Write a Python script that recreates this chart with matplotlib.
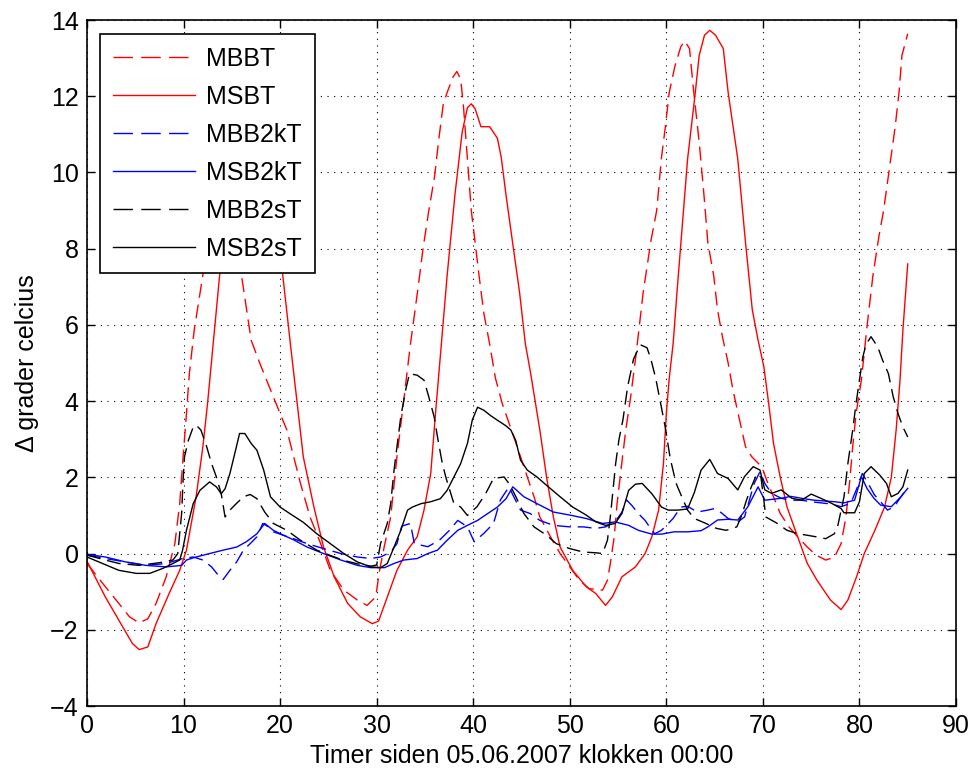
import matplotlib
matplotlib.use("Agg")
import matplotlib.pyplot as plt

plt.rcParams['font.family'] = ['Liberation Sans', 'DejaVu Sans']

labels = ["MBBT", "MSBT", "MBB2kT", "MSB2kT", "MBB2sT", "MSB2sT"]
colors = ["#ff0000", "#ff0000", "#0000ff", "#0000ff", "#000000", "#000000"]
styles = ["--", "-", "--", "-", "--", "-"]

xticks = [0, 10, 20, 30, 40, 50, 60, 70, 80, 90]
yticks = [-4, -2, 0, 2, 4, 6, 8, 10, 12, 14]
xlabel = "Timer siden 05.06.2007 klokken 00:00"
ylabel = "\u0394 grader celcius"

mbbt = [(0, -0.26), (1.9, -0.87), (3.3, -1.31), (4.4, -1.66), (5.4, -1.82), (6.3, -1.71),
        (7.15, -1.31), (8.2, -0.61), (9.1, 0.26), (9.6, 1.31), (9.9, 2.36), (10.3, 3.67),
        (10.6, 4.72), (11.1, 5.86), (12.1, 7.47), (12.9, 8.8), (13.6, 9.7), (14.2, 9.9),
        (14.8, 9.6), (15.4, 8.6), (15.9, 7.47), (17.0, 5.6), (17.9, 4.99), (19.3, 4.11),
        (20.7, 3.24), (22.1, 1.85), (23.1, 0.96), (24.2, 0.26), (25.2, -0.44), (26.6, -0.96),
        (28.0, -1.22), (29.0, -1.36), (29.9, -1.14), (30.3, -0.44), (30.8, 0.2), (31.45, 0.96),
        (32.1, 2.54), (32.7, 3.8), (33.5, 5.5), (34.3, 7.0), (34.8, 8.0), (35.4, 9.0),
        (36.0, 9.9), (36.4, 10.8), (36.9, 11.8), (37.3, 12.1), (37.9, 12.5), (38.3, 12.65),
        (38.7, 12.45), (39.0, 11.7), (39.4, 10.35), (39.8, 9.0), (40.2, 8.15), (40.6, 7.3),
        (41.1, 6.3), (41.7, 5.5), (42.3, 4.6), (43.0, 3.94), (44.2, 3.06), (44.9, 2.54),
        (45.6, 2.01), (46.3, 1.49), (46.9, 0.96), (48.0, 0.44), (49.0, 0.0), (50.0, -0.35),
        (51.0, -0.7), (52.0, -0.92), (53.4, -0.96), (53.9, -0.7), (54.2, -0.26), (54.6, 0.44),
        (54.9, 1.31), (55.3, 2.19), (55.8, 3.24), (56.3, 4.1), (56.9, 5.3), (57.6, 6.85),
        (58.4, 8.2), (59.0, 9.0), (59.5, 10.4), (59.9, 11.2), (60.3, 12.1), (60.9, 12.8),
        (61.5, 13.3), (61.9, 13.45), (62.4, 13.25), (62.8, 12.2), (63.4, 10.8), (63.9, 9.4),
        (64.3, 8.15), (64.9, 7.3), (65.3, 6.4), (65.8, 5.7), (66.4, 5.0), (66.9, 4.29),
        (67.5, 3.6), (68.2, 2.8), (68.85, 2.54), (69.9, 2.27), (70.4, 1.92), (71.1, 1.49),
        (71.8, 1.05), (72.7, 0.7), (73.6, 0.44), (74.6, 0.17), (75.5, -0.04), (76.5, -0.17),
        (77.4, -0.1), (78.1, 0.26), (78.6, 0.96), (79.0, 1.92), (79.3, 2.8), (79.65, 3.67),
        (80.2, 4.55), (80.8, 6.0), (81.4, 7.3), (82.0, 8.3), (82.5, 9.0), (83.1, 10.1),
        (83.7, 11.2), (84.1, 12.1), (84.4, 13.07), (85.0, 13.64)]

msbt = [(0, -0.2), (1.9, -1.14), (3.3, -1.75), (4.7, -2.36), (5.4, -2.52), (6.3, -2.45),
        (7.15, -1.84), (8.5, -1.05), (9.6, -0.44), (10.3, 0.09), (11.3, 1.49), (12.0, 2.8),
        (12.5, 3.98), (13.2, 5.86), (13.8, 7.47), (14.6, 9.2), (15.4, 10.0), (16.4, 10.3),
        (17.4, 10.2), (18.4, 9.8), (19.3, 8.8), (20.2, 7.47), (21.1, 5.42), (22.4, 2.54),
        (23.5, 1.22), (24.5, 0.17), (25.6, -0.61), (27.0, -1.31), (28.3, -1.66), (29.55, -1.84),
        (30.2, -1.77), (31.1, -1.14), (32.1, -0.44), (33.2, 0.09), (34.2, 0.44), (34.9, 1.14),
        (35.6, 2.1), (36.1, 3.7), (36.7, 5.5), (37.3, 7.3), (38.1, 9.4), (38.85, 11.05),
        (39.4, 11.7), (39.8, 11.8), (40.2, 11.67), (40.8, 11.2), (41.7, 11.2), (42.5, 10.9),
        (42.9, 10.4), (43.4, 9.4), (44.0, 8.3), (44.8, 6.85), (45.4, 5.5), (45.9, 4.8),
        (46.9, 3.24), (47.6, 2.0), (48.3, 0.96), (49.0, 0.17), (50.3, -0.44), (51.7, -0.87),
        (52.7, -1.05), (53.7, -1.36), (54.4, -1.14), (55.4, -0.61), (56.8, -0.35), (57.8, 0.0),
        (58.5, 0.44), (59.2, 1.14), (59.7, 2.36), (60.0, 3.67), (60.3, 4.6), (60.7, 5.5),
        (61.1, 6.85), (61.65, 8.6), (62.2, 10.35), (63.0, 12.1), (63.4, 13.07), (63.95, 13.6),
        (64.5, 13.73), (65.1, 13.6), (65.9, 13.25), (66.4, 12.1), (67.4, 10.35), (68.2, 8.16),
        (68.9, 6.4), (69.5, 5.6), (70.1, 4.9), (70.6, 3.94), (71.1, 2.89), (71.8, 2.0),
        (72.5, 1.22), (73.6, 0.44), (74.6, -0.26), (75.6, -0.7), (77.0, -1.22), (78.1, -1.47),
        (78.8, -1.22), (79.7, -0.61), (80.5, 0.0), (81.6, 0.61), (82.6, 1.22), (83.3, 2.0),
        (83.8, 3.24), (84.2, 4.55), (84.5, 5.86), (85.0, 7.6)]

mbb2kt = [(0, -0.04), (1.9, -0.13), (4.0, -0.22), (6.1, -0.31), (8.2, -0.26), (9.9, -0.13),
          (11.0, -0.09), (12.0, -0.17), (12.9, -0.35), (13.6, -0.57), (14.1, -0.68), (14.8, -0.44),
          (15.5, -0.22), (16.2, 0.09), (16.9, 0.26), (17.6, 0.44), (18.2, 0.79), (18.8, 0.7),
          (19.3, 0.57), (20.35, 0.48), (21.4, 0.39), (22.8, 0.26), (24.5, 0.13), (26.3, 0.0),
          (28.0, -0.09), (29.4, -0.13), (30.4, -0.09), (31.45, 0.04), (32.1, 0.26), (32.6, 0.72),
          (33.5, 0.79), (33.9, 0.26), (35.3, 0.18), (36.5, 0.35), (37.5, 0.6), (38.4, 0.87),
          (39.4, 0.7), (40.1, 0.31), (41.1, 0.53), (42.1, 0.79), (42.8, 1.4), (43.7, 1.75),
          (44.2, 1.49), (44.9, 1.14), (45.9, 1.05), (46.9, 0.87), (48.3, 0.74), (50.0, 0.7),
          (51.4, 0.7), (52.7, 0.66), (53.7, 0.7), (54.7, 0.83), (55.4, 1.09), (55.9, 1.4),
          (56.4, 1.27), (57.1, 1.05), (57.8, 0.87), (58.5, 0.61), (58.8, 0.52), (59.5, 0.61),
          (60.2, 0.79), (60.7, 0.92), (61.5, 1.22), (62.2, 1.24), (63.2, 1.09), (64.3, 1.14),
          (65.0, 1.18), (65.7, 1.07), (66.4, 0.92), (67.4, 0.83), (68.1, 0.96), (68.6, 1.4),
          (69.1, 1.84), (69.7, 2.15), (70.2, 1.84), (70.9, 1.58), (71.9, 1.45), (72.9, 1.4),
          (74.0, 1.4), (75.0, 1.36), (76.0, 1.33), (77.1, 1.3), (78.1, 1.23), (79.1, 1.32),
          (79.8, 1.75), (80.3, 2.1), (80.9, 1.84), (81.55, 1.54), (82.2, 1.36), (82.9, 1.14),
          (83.6, 1.23), (84.3, 1.49), (85.0, 1.75)]

msb2kt = [(0, -0.02), (1.9, -0.09), (4.0, -0.22), (6.1, -0.31), (8.2, -0.35), (9.8, -0.31),
          (10.3, -0.17), (11.3, -0.09), (12.7, 0.0), (14.1, 0.09), (15.5, 0.17), (16.5, 0.31),
          (17.6, 0.52), (18.4, 0.79), (19.3, 0.61), (20.35, 0.48), (21.4, 0.36), (22.8, 0.17),
          (24.5, 0.0), (26.3, -0.17), (28.0, -0.31), (29.4, -0.37), (30.8, -0.37), (31.8, -0.26),
          (32.8, -0.17), (34.2, -0.13), (35.3, 0.0), (36.3, 0.09), (37.3, 0.35), (38.4, 0.61),
          (39.4, 0.74), (40.45, 0.87), (41.5, 1.05), (42.5, 1.22), (43.4, 1.44), (44.1, 1.75),
          (45.25, 1.49), (46.6, 1.31), (48.3, 1.09), (50.0, 1.01), (51.7, 0.92), (53.4, 0.79),
          (54.7, 0.83), (56.1, 0.74), (57.1, 0.61), (58.5, 0.51), (59.5, 0.51), (60.8, 0.57),
          (62.2, 0.57), (63.6, 0.6), (64.3, 0.7), (65.3, 0.88), (66.4, 0.9), (67.4, 0.88),
          (68.45, 1.23), (69.5, 1.75), (70.0, 1.5), (70.2, 1.4), (71.9, 1.45), (72.9, 1.5),
          (74.0, 1.45), (75.3, 1.4), (77.4, 1.36), (78.4, 1.33), (79.5, 1.4), (80.2, 2.02),
          (80.8, 1.7), (81.5, 1.45), (82.2, 1.27), (83.3, 1.23), (84.3, 1.49), (85.0, 1.71)]

mbb2st = [(0, -0.04), (1.9, -0.17), (3.3, -0.26), (5.4, -0.31), (7.5, -0.24), (8.9, -0.17),
          (9.4, 0.0), (9.8, 1.05), (9.95, 1.92), (10.1, 2.54), (10.5, 2.97), (11.0, 3.32),
          (11.3, 3.37), (11.8, 3.24), (12.4, 2.8), (12.9, 2.36), (13.4, 2.01), (13.9, 1.57),
          (14.3, 0.96), (14.8, 1.14), (15.3, 1.27), (16.2, 1.49), (16.9, 1.55), (17.6, 1.44),
          (18.4, 1.09), (19.3, 0.79), (20.7, 0.61), (22.1, 0.35), (23.8, 0.09), (25.2, -0.05),
          (26.6, -0.18), (28.0, -0.27), (29.4, -0.33), (30.0, -0.3), (30.4, 0.26), (31.1, 0.79),
          (31.45, 1.31), (31.8, 2.19), (32.1, 2.8), (32.5, 3.59), (33.0, 4.29), (33.4, 4.72),
          (34.2, 4.68), (34.9, 4.55), (35.4, 4.11), (35.95, 3.59), (36.3, 3.06), (36.8, 2.36),
          (37.2, 1.97), (38.0, 1.31), (38.7, 1.22), (39.4, 1.0), (40.4, 1.23), (41.3, 1.58),
          (42.1, 1.97), (43.2, 2.01), (43.8, 1.8), (44.4, 1.5), (45.25, 1.05), (46.3, 0.7),
          (47.6, 0.48), (48.6, 0.26), (50.0, 0.13), (51.4, 0.04), (52.7, 0.02), (53.4, 0.0),
          (53.9, 0.35), (54.2, 0.96), (54.75, 2.36), (55.1, 3.0), (55.5, 3.5), (56.0, 4.39),
          (56.6, 5.1), (57.3, 5.48), (58.0, 5.4), (58.4, 5.1), (58.9, 4.6), (59.4, 3.95),
          (59.9, 3.3), (60.4, 2.5), (61.0, 1.85), (61.6, 1.49), (62.2, 1.14), (62.9, 0.92),
          (64.1, 0.79), (65.2, 0.66), (66.2, 0.61), (67.3, 0.7), (67.8, 1.0), (68.3, 1.4),
          (68.8, 1.75), (69.4, 2.1), (69.8, 2.0), (70.1, 1.4), (70.3, 0.96), (71.5, 0.79),
          (72.5, 0.61), (73.6, 0.52), (74.6, 0.48), (75.5, 0.44), (76.5, 0.39), (77.4, 0.52),
          (77.7, 0.66), (78.4, 1.49), (78.8, 2.36), (79.3, 3.24), (79.65, 3.94), (80.0, 4.55),
          (80.35, 5.16), (80.7, 5.5), (81.2, 5.69), (81.9, 5.42), (82.4, 5.07), (83.0, 4.72),
          (83.5, 4.11), (84.0, 3.67), (84.5, 3.32), (85.0, 3.06)]

msb2st = [(0, -0.09), (1.6, -0.26), (3.3, -0.44), (5.1, -0.52), (6.5, -0.52), (7.85, -0.39),
          (8.9, -0.26), (9.6, -0.17), (9.9, 0.09), (10.3, 0.61), (11.0, 1.31), (11.7, 1.66),
          (12.7, 1.88), (13.4, 1.75), (13.9, 1.57), (14.3, 1.7), (14.8, 2.1), (15.3, 2.62),
          (15.8, 3.15), (16.35, 3.15), (17.0, 2.89), (17.6, 2.71), (18.3, 2.19), (19.0, 1.49),
          (20.0, 1.22), (21.0, 1.05), (22.4, 0.82), (23.8, 0.52), (25.2, 0.26), (26.6, 0.0),
          (28.0, -0.22), (29.4, -0.35), (30.4, -0.37), (31.1, -0.26), (31.8, 0.17), (32.5, 0.61),
          (33.2, 1.14), (33.7, 1.22), (34.6, 1.31), (35.6, 1.36), (36.6, 1.44), (37.3, 1.66),
          (38.0, 2.01), (38.7, 2.36), (39.4, 2.89), (39.9, 3.5), (40.45, 3.84), (41.1, 3.76),
          (41.8, 3.62), (42.5, 3.5), (43.4, 3.35), (43.9, 3.24), (44.4, 2.97), (44.9, 2.45),
          (45.6, 2.19), (46.6, 2.01), (47.6, 1.79), (49.0, 1.49), (50.3, 1.22), (51.7, 1.01),
          (52.7, 0.83), (53.7, 0.74), (54.7, 0.79), (55.4, 1.05), (56.1, 1.66), (56.8, 1.82),
          (57.5, 1.84), (58.5, 1.57), (59.5, 1.22), (60.2, 1.14), (61.2, 1.14), (62.2, 1.17),
          (62.9, 1.6), (63.6, 2.19), (64.5, 2.47), (65.3, 2.1), (66.4, 1.97), (67.4, 1.67),
          (68.1, 2.02), (69.0, 2.28), (69.7, 2.19), (70.2, 1.67), (70.9, 1.58), (71.9, 1.67),
          (73.0, 1.45), (74.0, 1.4), (75.0, 1.56), (76.0, 1.45), (77.1, 1.32), (78.1, 1.18),
          (78.4, 1.07), (79.5, 1.07), (80.0, 1.36), (80.5, 2.1), (81.2, 2.28), (82.1, 2.06),
          (82.8, 1.84), (83.3, 1.49), (84.0, 1.58), (84.5, 1.75), (85.0, 2.19)]

series = [mbbt, msbt, mbb2kt, msb2kt, mbb2st, msb2st]

FS = 18
fig = plt.figure(figsize=(9.71, 7.74), dpi=100)
ax = fig.add_axes([87 / 971, 1 - 706 / 774, (956 - 87) / 971, (706 - 20) / 774])

for data, lab, col, ls in zip(series, labels, colors, styles):
    xs = [p[0] for p in data]
    ys = [p[1] for p in data]
    line, = ax.plot(xs, ys, color=col, linestyle=ls, linewidth=1.0, label=lab)
    if ls == "--":
        line.set_dashes((10, 5))

ax.set_xlim(0, 90)
ax.set_ylim(-4, 14)
ax.set_xticks(xticks)
ax.set_yticks(yticks)
ax.grid(True, color="black", linestyle=(0, (1, 5)), linewidth=0.8)
ax.tick_params(direction="in", length=6, width=1.0, top=True, right=True,
               labelsize=FS, pad=6, colors="black")
for sp in ax.spines.values():
    sp.set_linewidth(1.2)
    sp.set_color("black")
ax.set_xlabel(xlabel, fontsize=FS, labelpad=4)
ax.set_ylabel(ylabel, fontsize=FS, labelpad=8)

leg = ax.legend(loc="upper left", bbox_to_anchor=(13 / 869, 1 - 14 / 686),
                borderaxespad=0, fontsize=FS, frameon=True, fancybox=False,
                handlelength=3.3, handletextpad=0.45, labelspacing=0.56, borderpad=0.5)
leg.get_frame().set_edgecolor("black")
leg.get_frame().set_linewidth(1.2)
leg.get_frame().set_alpha(1.0)
for h in leg.get_lines():
    if h.get_linestyle() == "--":
        h.set_dashes((14, 6))

fig.savefig("out.png", dpi=100)
